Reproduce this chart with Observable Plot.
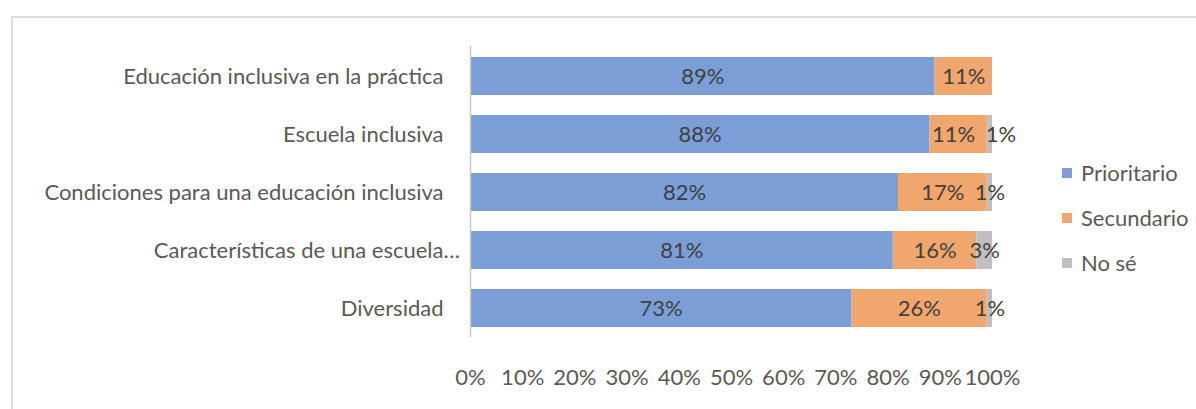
<!DOCTYPE html>
<html><head><meta charset="utf-8">
<script src="https://cdn.jsdelivr.net/npm/d3@7"></script>
<script src="https://cdn.jsdelivr.net/npm/@observablehq/plot@0.6"></script>
<style>
body{margin:0;background:#fff;}
#wrap{position:relative;width:1196px;height:409px;overflow:hidden;font-family:Lato,sans-serif;}
#frame{position:absolute;left:11px;top:16px;width:1400px;height:600px;border-top:2px solid #dcdcdc;border-left:2px solid #dcdcdc;}
#chart{position:absolute;left:0;top:0;}
#legend{position:absolute;left:1062px;top:150px;}
.item{display:flex;align-items:center;height:45px;font-size:22px;color:#595959;}
.sw{width:10px;height:10px;margin-right:9px;}
</style></head><body>
<div id="wrap"><div id="frame"></div><div id="chart"></div><div id="legend"></div></div>
<script>
const categories = [
  "Educación inclusiva en la práctica",
  "Escuela inclusiva",
  "Condiciones para una educación inclusiva",
  "Características de una escuela…",
  "Diversidad"
];
const series = ["Prioritario", "Secundario", "No sé"];
const colors = ["#7c9ed6", "#f1a66e", "#bfbfbf"];
const prioritario = [89, 88, 82, 81, 73];
const secundario = [11, 11, 17, 16, 26];
const noSe = [0, 1, 1, 3, 1];
const xTicks = [0, 10, 20, 30, 40, 50, 60, 70, 80, 90, 100];

const values = [prioritario, secundario, noSe];
const data = [];
series.forEach((s, i) => categories.forEach((c, j) => data.push({category: c, series: s, value: values[i][j]})));
const truncated = categories.filter(c => c.endsWith("…"));
const crowded = categories[1];

const labelOpts = {x: "value", y: "category", z: "series", order: series, text: d => d.value + "%", fill: "#404040", fontSize: 22};
const isCrowdedSec = d => d.category === crowded && d.series === series[1];
const isCrowdedNo = d => d.category === crowded && d.series === series[2];

const chart = Plot.plot({
  width: 1196,
  height: 409,
  marginLeft: 470,
  marginRight: 204,
  marginTop: 46,
  marginBottom: 72,
  style: {fontFamily: "Lato, sans-serif", fontSize: "22px", color: "#595959", background: "transparent"},
  x: {domain: [0, 100], label: null},
  y: {domain: categories, paddingInner: 0.35, paddingOuter: 0.175, label: null},
  color: {domain: series, range: colors},
  marks: [
    Plot.barX(data, Plot.stackX({x: "value", y: "category", fill: "series", order: series})),
    Plot.ruleX([0], {stroke: "#c8c8c8", strokeWidth: 1.5}),
    Plot.text(data, Plot.filter(d => d.value > 0 && !isCrowdedSec(d) && !isCrowdedNo(d), Plot.stackX(labelOpts))),
    Plot.text(data, Plot.filter(isCrowdedSec, Plot.stackX({...labelOpts, dx: -5}))),
    Plot.text(data, Plot.filter(isCrowdedNo, Plot.stackX({...labelOpts, dx: 11}))),
    Plot.axisX({ticks: xTicks, tickFormat: d => d + "%", tickSize: 0, tickPadding: 32, fontSize: 22, label: null}),
    Plot.axisY({tickSize: 0, tickPadding: 27, fontSize: 22, label: null, tickFormat: d => d.endsWith("…") ? d.slice(0, -1) : d}),
    Plot.text(truncated, {x: 0, y: d => d, text: () => "…", textAnchor: "start", dx: -27, fill: "#595959", fontSize: 22})
  ]
});
document.getElementById("chart").appendChild(chart);

const legend = d3.select("#legend");
series.forEach((s, i) => {
  const it = legend.append("div").attr("class", "item");
  it.append("div").attr("class", "sw").style("background", colors[i]);
  it.append("span").text(s);
});
</script>
</body></html>
